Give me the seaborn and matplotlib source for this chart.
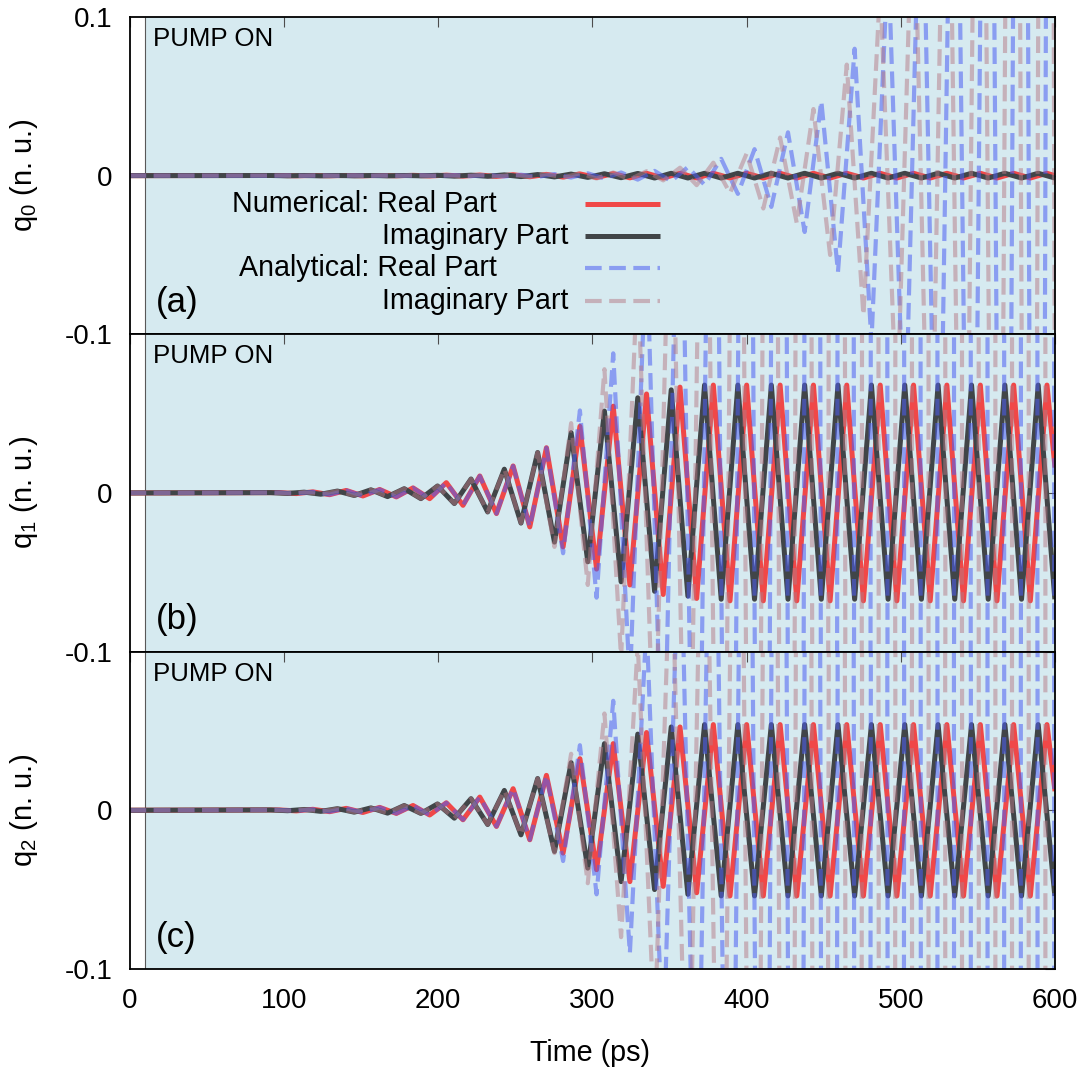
import matplotlib
matplotlib.use("Agg")
import matplotlib.pyplot as plt
from matplotlib.lines import Line2D
import seaborn as sns

# ---------------------------------------------------------------------------
# Data: extrema of the oscillating amplitudes (time in ps, value in n. u.)
# ---------------------------------------------------------------------------
PUMP_START = 10.0

# times of the extrema of the imaginary-part oscillation
T_IM = [0.0, 91.6, 102.4, 113.2, 124.0, 134.8, 145.7, 156.5, 167.3, 178.1, 188.9,
        199.7, 210.6, 221.4, 232.2, 243.0, 253.8, 264.6, 275.5, 286.3, 297.1,
        307.9, 318.7, 329.5, 340.4, 351.2, 362.0, 372.8, 383.6, 394.4, 405.2,
        416.1, 426.9, 437.7, 448.5, 459.3, 470.1, 481.0, 491.8, 502.6, 513.4,
        524.2, 535.0, 545.9, 556.7, 567.5, 578.3, 589.1, 599.9]

# times of the extrema of the real-part oscillation
T_RE = [0.0, 97.3, 108.1, 118.9, 129.7, 140.5, 151.3, 162.2, 173.0, 183.8, 194.6,
        205.4, 216.2, 227.1, 237.9, 248.7, 259.5, 270.3, 281.1, 292.0, 302.8,
        313.6, 324.4, 335.2, 346.0, 356.9, 367.7, 378.5, 389.3, 400.1, 410.9,
        421.8, 432.6, 443.4, 454.2, 465.0, 475.8, 486.7, 497.5, 508.3, 519.1,
        529.9, 540.7, 551.6, 562.4, 573.2, 584.0, 594.8, 600.0]

# ---- q0 -------------------------------------------------------------------
NUM_RE_A = [0.0, 0.0001, -0.0001, 0.0001, -0.0001, 0.0001, -0.0001, 0.0001, -0.0001,
            0.0002, -0.0002, 0.0003, -0.0003, 0.0004, -0.0005, 0.0006, -0.0007,
            0.0008, -0.0009, 0.0011, -0.0012, 0.0013, -0.0014, 0.0015, -0.0015,
            0.0015, -0.0015, 0.0015, -0.0015, 0.0015, -0.0015, 0.0015, -0.0015,
            0.0015, -0.0015, 0.0015, -0.0015, 0.0015, -0.0015, 0.0015, -0.0015,
            0.0015, -0.0015, 0.0015, -0.0015, 0.0015, -0.0015, 0.0015, 0.0]
NUM_IM_A = [0.0, 0.0001, -0.0001, 0.0001, -0.0001, 0.0001, -0.0001, 0.0001, -0.0001,
            0.0001, -0.0001, 0.0002, -0.0003, 0.0003, -0.0004, 0.0005, -0.0006,
            0.0007, -0.0008, 0.0010, -0.0011, 0.0012, -0.0013, 0.0014, -0.0015,
            0.0015, -0.0015, 0.0015, -0.0015, 0.0015, -0.0015, 0.0015, -0.0015,
            0.0015, -0.0015, 0.0015, -0.0015, 0.0015, -0.0015, 0.0015, -0.0015,
            0.0015, -0.0015, 0.0015, -0.0015, 0.0015, -0.0015, 0.0015, -0.0015]
ANA_RE_A = [0.0, -0.0001, 0.0001, -0.0001, 0.0001, -0.0001, 0.0001, -0.0001, 0.0001,
            -0.0001, 0.0002, -0.0002, 0.0003, -0.0003, 0.0004, -0.0005, 0.0006,
            -0.0008, 0.0010, -0.0012, 0.0015, -0.0018, 0.0020, -0.0025, 0.0030,
            -0.0035, 0.0054, -0.0058, 0.0106, -0.0115, 0.0167, -0.0197, 0.0273,
            -0.0355, 0.047, -0.0607, 0.080, -0.105, 0.14, -0.18, 0.235, -0.30,
            0.39, -0.51, 0.66, -0.86, 1.1, -1.45, 1.9]
ANA_IM_A = [0.0, 0.0001, -0.0001, 0.0001, -0.0001, 0.0001, -0.0001, 0.0001, -0.0001,
            0.0001, -0.0001, 0.0002, -0.0003, 0.0004, -0.0005, 0.0006, -0.0008,
            0.0010, -0.0012, 0.0015, -0.0018, 0.0020, -0.0024, 0.0028, -0.0030,
            0.0050, -0.0060, 0.0082, -0.011, 0.014, -0.0207, 0.024, -0.030,
            0.042, -0.050, 0.070, -0.088, 0.12, -0.155, 0.20, -0.26, 0.34,
            -0.44, 0.57, -0.74, 0.96, -1.25, 1.6, -0.18]

# ---- q1 -------------------------------------------------------------------
NUM_RE_B = [0.0, 0.0002, -0.0004, 0.0007, -0.0011, 0.0016, -0.0019, 0.0022, -0.0025,
            0.0032, -0.0036, 0.0065, -0.0078, 0.0107, -0.013, 0.017, -0.0214,
            0.0285, -0.034, 0.042, -0.048, 0.0547, -0.058, 0.0624, -0.064,
            0.0667, -0.0665, 0.068, -0.068, 0.068, -0.068, 0.068, -0.068,
            0.068, -0.068, 0.068, -0.068, 0.068, -0.068, 0.068, -0.068,
            0.068, -0.068, 0.068, -0.068, 0.068, -0.068, 0.068, 0.016]
NUM_IM_B = [0.0, 0.0002, -0.0003, 0.0005, -0.0008, 0.0012, -0.0016, 0.0020, -0.0023,
            0.0027, -0.0036, 0.0044, -0.0067, 0.0088, -0.012, 0.015, -0.019,
            0.0255, -0.031, 0.038, -0.0434, 0.0516, -0.056, 0.060, -0.062,
            0.065, -0.065, 0.068, -0.067, 0.068, -0.067, 0.068, -0.067,
            0.068, -0.067, 0.068, -0.067, 0.068, -0.067, 0.068, -0.067,
            0.068, -0.067, 0.068, -0.067, 0.068, -0.067, 0.068, -0.067]
# the analytical solution coincides with the numerical one up to ~275 ps
ANA_RE_B = NUM_RE_B[:18] + [-0.038, 0.052, -0.066, 0.088, -0.12, 0.16, -0.21, 0.28,
                            -0.37, 0.49, -0.65, 0.86, -1.1, 1.5, -2.0, 2.6, -3.5,
                            4.6, -6.1, 8.1, -10.7, 14.0, -19.0, 25.0, -33.0, 44.0,
                            -58.0, 77.0, -100.0, 135.0, -16.0]
ANA_IM_B = NUM_IM_B[:18] + [-0.034, 0.044, -0.058, 0.078, -0.104, 0.14, -0.18, 0.24,
                            -0.32, 0.42, -0.56, 0.74, -0.98, 1.3, -1.7, 2.3, -3.0,
                            4.0, -5.3, 7.0, -9.3, 12.3, -16.0, 21.5, -28.0, 37.0,
                            -49.0, 65.0, -86.0, 114.0, -150.0]

# ---- q2 -------------------------------------------------------------------
NUM_RE_C = [0.0, 0.0002, -0.0004, 0.0006, -0.0009, 0.0012, -0.0014, 0.0018, -0.0020,
            0.0030, -0.0030, 0.0047, -0.0060, 0.0083, -0.0102, 0.0136, -0.0186,
            0.022, -0.027, 0.0325, -0.0375, 0.042, -0.045, 0.049, -0.048,
            0.0525, -0.052, 0.054, -0.054, 0.054, -0.054, 0.054, -0.054,
            0.054, -0.054, 0.054, -0.054, 0.054, -0.054, 0.054, -0.054,
            0.054, -0.054, 0.054, -0.054, 0.054, -0.054, 0.054, 0.012]
NUM_IM_C = [0.0, 0.0002, -0.0003, 0.0005, -0.0007, 0.0010, -0.0012, 0.0015, -0.0018,
            0.0030, -0.0020, 0.0040, -0.0050, 0.0073, -0.009, 0.0125, -0.0155,
            0.020, -0.026, 0.030, -0.0365, 0.042, -0.045, 0.048, -0.050,
            0.0525, -0.053, 0.054, -0.054, 0.054, -0.054, 0.054, -0.054,
            0.054, -0.054, 0.054, -0.054, 0.054, -0.054, 0.054, -0.054,
            0.054, -0.054, 0.054, -0.054, 0.054, -0.054, 0.054, -0.054]
ANA_RE_C = NUM_RE_C[:18] + [-0.032, 0.041, -0.053, 0.069, -0.09, 0.118, -0.155, 0.20,
                            -0.27, 0.35, -0.46, 0.6, -0.8, 1.05, -1.4, 1.8, -2.4,
                            3.1, -4.1, 5.4, -7.1, 9.4, -12.4, 16.0, -21.5, 28.0,
                            -37.0, 49.0, -65.0, 85.0, -10.0]
ANA_IM_C = NUM_IM_C[:18] + [-0.027, 0.0356, -0.046, 0.061, -0.080, 0.105, -0.14, 0.18,
                            -0.24, 0.31, -0.41, 0.54, -0.71, 0.94, -1.24, 1.6, -2.1,
                            2.8, -3.7, 4.9, -6.5, 8.6, -11.3, 15.0, -20.0, 26.0,
                            -34.0, 45.0, -60.0, 79.0, -104.0]

PANELS = [
    ("0", "(a)", NUM_RE_A, NUM_IM_A, ANA_RE_A, ANA_IM_A, T_RE, T_IM, T_IM, T_RE),
    ("1", "(b)", NUM_RE_B, NUM_IM_B, ANA_RE_B, ANA_IM_B, T_RE, T_IM, T_RE, T_IM),
    ("2", "(c)", NUM_RE_C, NUM_IM_C, ANA_RE_C, ANA_IM_C, T_RE, T_IM, T_RE, T_IM),
]

LEGEND_LABELS = ["Numerical: Real Part", "Imaginary Part",
                 "Analytical: Real Part", "Imaginary Part"]
X_TICKS = [0, 100, 200, 300, 400, 500, 600]
Y_TICKS = [-0.1, 0.0, 0.1]
Y_TICK_LABELS_TOP = ["-0.1", "0", "0.1"]
# lower panels: the top label would sit on the "-0.1" of the panel above
Y_TICK_LABELS_LOWER = ["-0.1", "0", ""]

# ---------------------------------------------------------------------------
# Style
# ---------------------------------------------------------------------------
SHADE = "#d6eaf0"
RED = "#f04848"
DARK = "#414548"
BLUE = "#4c5ef2"
PINK = "#b67a85"
DASH = (0, (4.0, 1.8))
LW_NUM = 3.6
LW_ANA = 3.0
FS = 20

sns.set_theme(style="white")
plt.rcParams["font.family"] = ["Liberation Sans", "DejaVu Sans"]
plt.rcParams["mathtext.fontset"] = "custom"
plt.rcParams["mathtext.rm"] = "Liberation Sans"
plt.rcParams["mathtext.it"] = "Liberation Sans:italic"
plt.rcParams["lines.solid_capstyle"] = "butt"
plt.rcParams["lines.solid_joinstyle"] = "round"
plt.rcParams["text.color"] = "black"
plt.rcParams["axes.labelcolor"] = "black"
plt.rcParams["xtick.color"] = "black"
plt.rcParams["ytick.color"] = "black"

W, H = 1091, 1067
fig = plt.figure(figsize=(W / 100, H / 100), dpi=100)
fig.patch.set_facecolor("white")

LEFT, RIGHT = 129.5, 1055.0
PANEL_H = 317.3
TOPS = [17.0, 17.0 + PANEL_H, 17.0 + 2 * PANEL_H]

styles = [
    dict(color=RED, lw=LW_NUM, alpha=1.0, ls="-", zorder=2.0),
    dict(color=DARK, lw=LW_NUM, alpha=1.0, ls="-", zorder=2.1),
    dict(color=BLUE, lw=LW_ANA, alpha=0.55, ls=DASH, zorder=2.2),
    dict(color=PINK, lw=LW_ANA, alpha=0.5, ls=DASH, zorder=2.3),
]

axes = []
for i, (sub, tag, nre, nim, are, aim, t1, t2, t3, t4) in enumerate(PANELS):
    top = TOPS[i]
    ax = fig.add_axes([LEFT / W, 1 - (top + PANEL_H) / H,
                       (RIGHT - LEFT) / W, PANEL_H / H])
    axes.append(ax)
    ax.set_facecolor("white")
    ax.axvspan(PUMP_START, 600, color=SHADE, lw=0, zorder=0)
    ax.axvline(PUMP_START, color="0.35", lw=0.8, zorder=0.5)

    for (tt, vals), st in zip([(t1, nre), (t2, nim), (t3, are), (t4, aim)], styles):
        sns.lineplot(x=tt, y=vals, ax=ax, estimator=None, errorbar=None,
                     sort=False, legend=False, color=st["color"],
                     linewidth=st["lw"], alpha=st["alpha"],
                     linestyle=st["ls"], zorder=st["zorder"])

    ax.set_xlim(0, 600)
    ax.set_ylim(-0.1, 0.1)
    ax.set_xticks(X_TICKS)
    ax.set_yticks(Y_TICKS)
    ax.set_yticklabels(Y_TICK_LABELS_TOP if i == 0 else Y_TICK_LABELS_LOWER)
    ax.tick_params(direction="in", length=7, width=0.8, color="0.3",
                   top=True, right=True, labelsize=FS, pad=12,
                   labelcolor="black")
    ax.tick_params(axis="x", pad=14)
    if i < 2:
        ax.tick_params(labelbottom=False)
        ax.set_xlabel("")
    for sp in ax.spines.values():
        sp.set_linewidth(1.3)
        sp.set_color("black")
        sp.set_zorder(5)

    ax.set_ylabel(r"q$_\mathregular{" + sub + r"}$ (n. u.)", fontsize=21,
                  color="black")
    ax.yaxis.set_label_coords(-0.097, 0.5)

    ax.text(0.0254, 0.968, "PUMP ON", transform=ax.transAxes,
            ha="left", va="top", fontsize=18.6, color="black", zorder=6)
    ax.text(0.029, 0.10, tag, transform=ax.transAxes,
            ha="left", va="center", fontsize=25, color="black", zorder=6)

axes[-1].set_xlabel("Time (ps)", fontsize=20.7, color="black")
axes[-1].xaxis.set_label_coords(0.4976, -0.222)

# key in the first panel: right-aligned labels followed by line samples
ax0 = axes[0]
rows_y = [0.411, 0.310, 0.209, 0.105]
text_x = [0.397, 0.474, 0.397, 0.474]
for y, tx, label, st in zip(rows_y, text_x, LEGEND_LABELS, styles):
    ax0.text(tx, y, label, transform=ax0.transAxes, ha="right", va="center",
             fontsize=20.6, color="black", zorder=6)
    ax0.add_line(Line2D([0.492, 0.573], [y, y], transform=ax0.transAxes,
                        color=st["color"], lw=st["lw"], alpha=st["alpha"],
                        ls=st["ls"], zorder=6))

fig.savefig("out.png", dpi=100)
